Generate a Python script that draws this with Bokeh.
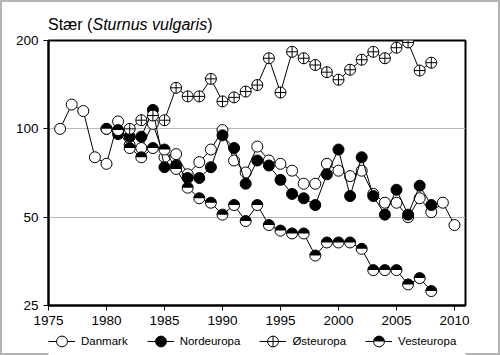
from bokeh.plotting import figure
from bokeh.layouts import column
from bokeh.models import (Range1d, FixedTicker, Legend, LegendItem, Div,
                          PrintfTickFormatter, CustomJS)
from bokeh.embed import file_html
from bokeh.resources import INLINE

# ---- data ----
years_dk = list(range(1976, 2011))
danmark = [100, 121, 115, 80, 76, 106, 88, 86, 104, 80, 82, 70, 77, 85, 99, 78, 71, 87,
           78, 76, 72, 65, 65, 76, 72, 69, 72, 60, 56, 56, 50, 58, 52, 56, 47]
years_nord = list(range(1980, 2009))
nordeuropa = [100, 96, 94, 94, 116, 74, 75, 68, 68, 74, 95, 86, 65, 78, 75, 67, 60, 58, 55,
              70, 85, 59, 80, 59, 51, 62, 51, 64, 55]
years_ost = list(range(1982, 2009))
osteuropa = [100, 107, 111, 107, 138, 129, 129, 148, 124, 128, 134, 141, 174, 133, 183, 174,
             165, 156, 147, 159, 172, 183, 174, 189, 197, 158, 168]
years_vest = list(range(1980, 2009))
vesteuropa = [100, 99, 86, 80, 86, 85, 73, 63, 58, 56, 51, 55, 48.5, 55, 47, 45, 44, 44, 37,
              41, 41, 41, 39, 33, 33, 33, 29.5, 31, 28]

x_ticks = [1975, 1980, 1985, 1990, 1995, 2000, 2005, 2010]
y_ticks = [25, 50, 100, 200]
series_names = ["Danmark", "Nordeuropa", "Østeuropa", "Vesteuropa"]

FONT = "Liberation Sans"
MS = 11

# custom marker: circle with upper half black, lower half white
HALF = CustomJS(code="""
export default (args, obj, {ctx, i, r, visuals}) => {
  ctx.beginPath()
  ctx.arc(0, 0, r, 0, 2*Math.PI, false)
  ctx.fillStyle = "white"
  ctx.fill()
  ctx.beginPath()
  ctx.arc(0, 0, r, Math.PI, 2*Math.PI, false)
  ctx.closePath()
  ctx.fillStyle = "black"
  ctx.fill()
  ctx.beginPath()
  ctx.arc(0, 0, r, 0, 2*Math.PI, false)
  visuals.line.apply(ctx, i)
}
""")

title = Div(text='Stær (<i>Sturnus vulgaris</i>)', width=500, height=34, margin=0,
            styles={"font-family": FONT, "font-size": "16px", "line-height": "16px",
                    "padding-top": "17px", "padding-left": "48px", "color": "black",
                    "box-sizing": "border-box"})

p = figure(width=500, height=297, output_backend="svg", toolbar_location=None,
           y_axis_type="log", x_range=Range1d(1975, 2010.95), y_range=Range1d(25, 200),
           min_border_left=48, min_border_right=35, min_border_top=6, min_border_bottom=26)
p.border_fill_alpha = 0
p.outline_line_color = "black"
p.outline_line_width = 2
p.xgrid.visible = False
p.ygrid.ticker = FixedTicker(ticks=y_ticks)
p.ygrid.grid_line_color = "#b8b8b8"
p.xaxis.ticker = FixedTicker(ticks=x_ticks)
p.yaxis.ticker = FixedTicker(ticks=y_ticks)
p.yaxis.formatter = PrintfTickFormatter(format="%d")
for ax in (p.xaxis[0], p.yaxis[0]):
    ax.axis_line_color = "black"
    ax.axis_line_width = 2
    ax.major_tick_line_color = "black"
    ax.major_tick_in = 0
    ax.major_tick_out = 5
    ax.minor_tick_line_color = None
    ax.major_label_text_font = FONT
    ax.major_label_text_font_size = "13.5px"
    ax.major_label_text_color = "black"
    ax.major_label_standoff = 5

# legend strip figure (its proxy renderers lie outside its ranges)
lg = figure(width=500, height=24, output_backend="svg", toolbar_location=None,
            x_range=Range1d(0, 1), y_range=Range1d(0, 1),
            x_axis_location=None, y_axis_location=None,
            min_border_left=48, min_border_right=35, min_border_top=0, min_border_bottom=0)
lg.grid.visible = False
lg.outline_line_color = None
lg.border_fill_alpha = 0

def series(fig, xs, ys, marker, fill):
    l = fig.line(xs, ys, line_color="black", line_width=1)
    s = fig.scatter(xs, ys, marker=marker, size=MS, fill_color=fill,
                    line_color="black", line_width=1)
    if marker.startswith("@"):
        s.glyph.defs = {"@half": HALF}
    return l, s

items = []
data = [(years_dk, danmark, "circle", "white"),
        (years_nord, nordeuropa, "circle", "black"),
        (years_ost, osteuropa, "circle_cross", "white"),
        (years_vest, vesteuropa, "@half", "white")]
for name, (xs, ys, mk, fc) in zip(series_names, data):
    series(p, xs, ys, mk, fc)
    l, s = series(lg, xs, ys, mk, fc)
    items.append(LegendItem(label=name, renderers=[l, s]))

legend = Legend(items=items, orientation="horizontal", location=(0, 0),
                glyph_width=27, glyph_height=28, label_standoff=6, spacing=19,
                padding=0, margin=0, border_line_color=None, background_fill_alpha=0,
                label_text_font=FONT, label_text_font_size="11.5px",
                label_text_color="black")
lg.add_layout(legend)

layout = column(title, p, lg, spacing=0,
                styles={"outline": "2px solid #b4b4b4", "outline-offset": "-2px"})
open("out.html", "w").write(file_html(layout, INLINE))
